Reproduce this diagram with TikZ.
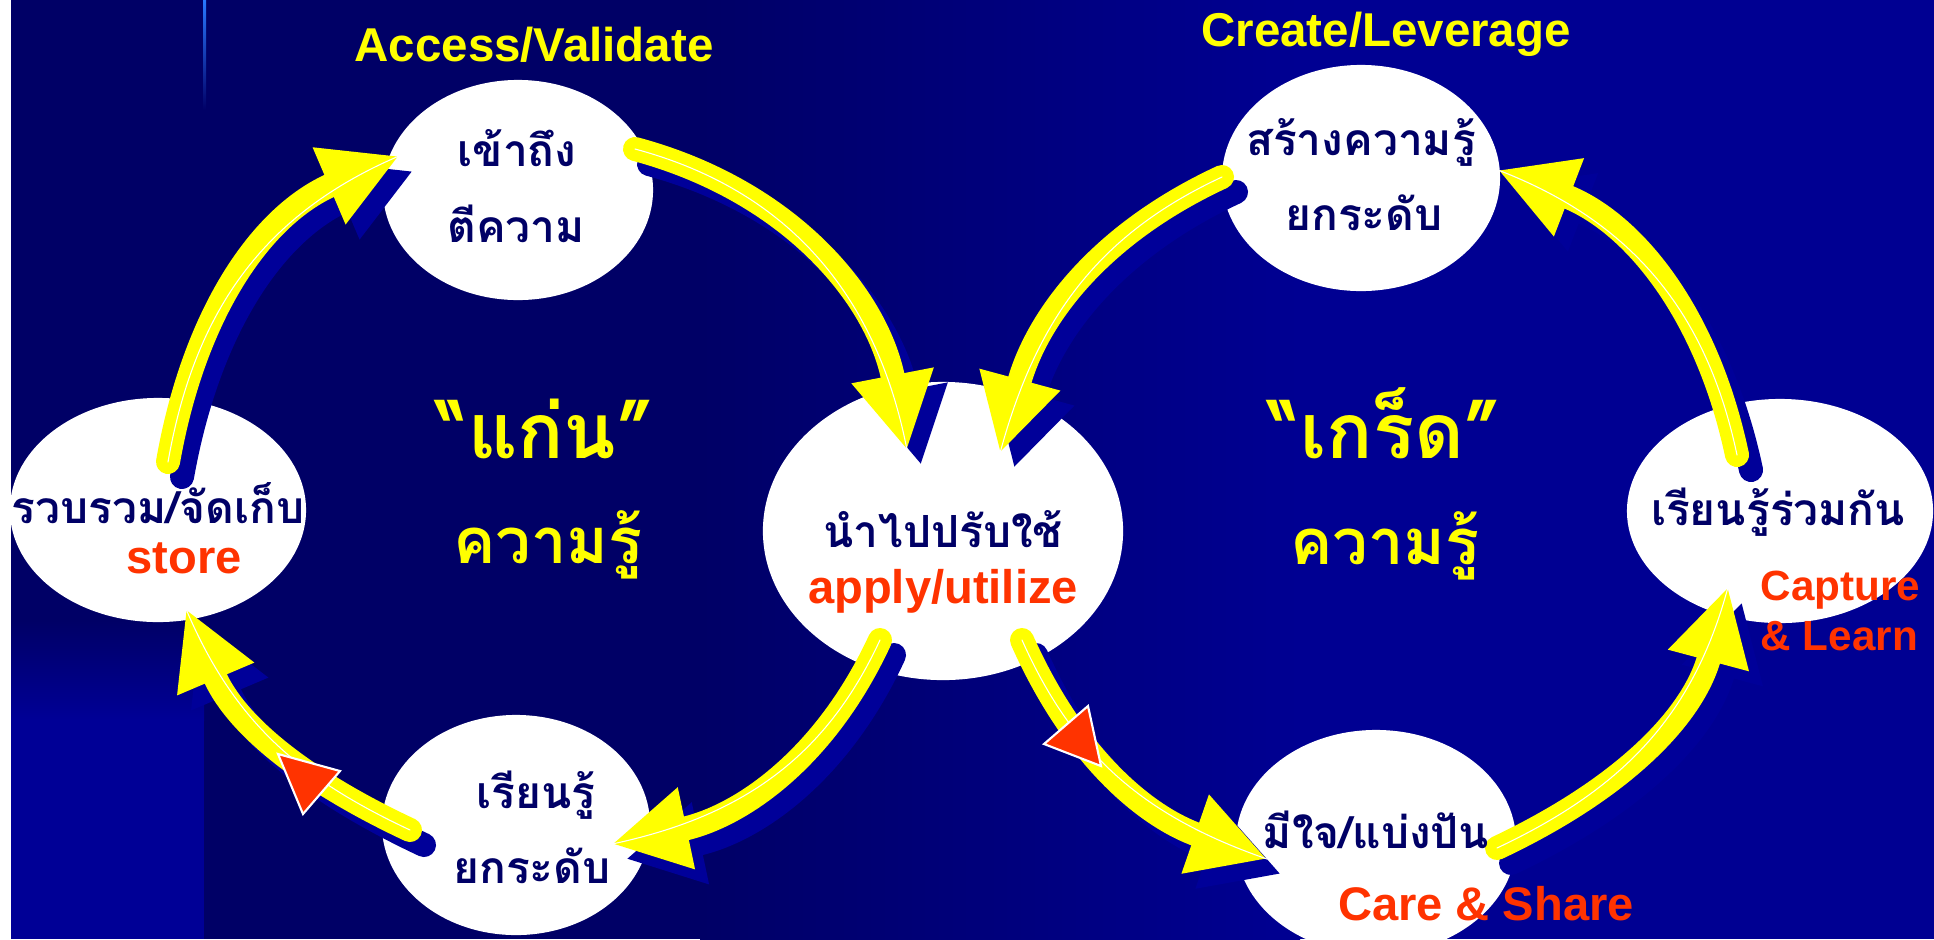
\documentclass[tikz,border=0pt]{standalone}
\usepackage{fontspec}
\setmainfont{Liberation Sans}
\newfontfamily\thai[Script=Thai]{Loma}
\usetikzlibrary{shapes.geometric,arrows.meta,calc}
\definecolor{fondA}{RGB}{0,0,102}
\definecolor{fondB}{RGB}{0,0,146}
\definecolor{bande}{RGB}{0,0,150}
\definecolor{bleuombre}{RGB}{0,0,153}
\definecolor{jaune}{RGB}{255,255,0}
\definecolor{rouge}{RGB}{255,51,0}
\definecolor{marine}{RGB}{0,0,102}
\definecolor{filbleu}{RGB}{40,120,255}

\begin{document}
\begin{tikzpicture}[x=0.01cm,y=-0.01cm]
    % Styles
    \tikzstyle{bulle}=[ellipse,fill=white,inner sep=0pt]
    \tikzstyle{fleche}=[draw=jaune,line width=0.24cm,line cap=round,-{Triangle[width=0.78cm,length=0.76cm]},
        preaction={draw=bleuombre,line width=0.24cm,line cap=round,-{Triangle[width=0.78cm,length=0.76cm]},
            transform canvas={shift={(14,15)}}},
        postaction={draw=white,line width=0.3pt,-}]
    \tikzstyle{repere}=[fill=rouge,draw=white,line width=0.6pt]
    \tikzstyle{thaiN}=[anchor=base,inner sep=0pt,text=marine,font=\thai\bfseries\fontsize{12.6pt}{14pt}\selectfont]
    \tikzstyle{anglais}=[anchor=base,inner sep=0pt,text=rouge,font=\bfseries\fontsize{13.4pt}{15pt}\selectfont]
    \tikzstyle{petit}=[anchor=base west,inner sep=0pt,text=rouge,font=\bfseries\fontsize{12pt}{14pt}\selectfont]
    \tikzstyle{titre}=[anchor=base,inner sep=0pt,text=jaune,font=\bfseries\fontsize{13.5pt}{15pt}\selectfont]
    \tikzstyle{grand}=[anchor=base,inner sep=0pt,text=jaune,font=\thai\bfseries\fontsize{21.8pt}{24pt}\selectfont]
    \tikzstyle{moyen}=[anchor=base,inner sep=0pt,text=jaune,font=\thai\bfseries\fontsize{18pt}{20pt}\selectfont]
    % Fond
    \useasboundingbox (0,0) rectangle (1934,939);
    \fill[white] (0,0) rectangle (1934,939);
    \fill[fondA] (11,0) rectangle (700,939);
    \shade[left color=fondA,right color=fondB] (700,0) rectangle (1300,939);
    \fill[fondB] (1300,0) rectangle (1934,939);
    \shade[top color=fondA,bottom color=bande] (11,620) rectangle (204,720);
    \fill[bande] (11,720) rectangle (204,939);
    \shade[top color=filbleu,bottom color=fondA] (203,0) rectangle (206,110);
    % Bulles
    \node[bulle,minimum width=2.70cm,minimum height=2.20cm] (acc) at (518,190) {};
    \node[bulle,minimum width=2.78cm,minimum height=2.26cm] (cre) at (1361,178) {};
    \node[bulle,minimum width=2.96cm,minimum height=2.24cm] (sto) at (158,510) {};
    \node[bulle,minimum width=3.60cm,minimum height=2.98cm] (app) at (943,531) {};
    \node[bulle,minimum width=2.68cm,minimum height=2.20cm] (ame) at (516,825) {};
    \node[bulle,minimum width=2.80cm,minimum height=2.24cm] (par) at (1376,842) {};
    \node[bulle,minimum width=3.06cm,minimum height=2.24cm] (cap) at (1780,511) {};
    % Bouts des fleches
    \coordinate (a1s) at ($(sto)+(10,-48)$);
    \coordinate (a1e) at ($(acc)+(-119,-34)$);
    \coordinate (a2s) at ($(acc)+(117,-41)$);
    \coordinate (a2e) at ($(app)+(-36,-81)$);
    \coordinate (a3s) at ($(app)+(-63,109)$);
    \coordinate (a3e) at ($(ame)+(96,19)$);
    \coordinate (a4s) at ($(ame)+(-106,5)$);
    \coordinate (a4e) at ($(sto)+(28,99)$);
    \coordinate (a5s) at ($(cre)+(-139,-1)$);
    \coordinate (a5e) at ($(app)+(57,-78)$);
    \coordinate (a6s) at ($(app)+(79,109)$);
    \coordinate (a6e) at ($(par)+(-109,17)$);
    \coordinate (a7s) at ($(par)+(121,6)$);
    \coordinate (a7e) at ($(cap)+(-52,76)$);
    \coordinate (a8s) at ($(cap)+(-43,-56)$);
    \coordinate (a8e) at ($(cre)+(137,-8)$);
    % Fleches
    \draw[fleche] (a1s) .. controls +(26,-148) and +(-138,59) .. (a1e);
    \draw[fleche] (a2s) .. controls +(153,41) and +(-30,-155) .. (a2e);
    \draw[fleche] (a3s) .. controls +(-55,119) and +(128,-27) .. (a3e);
    \draw[fleche] (a4s) .. controls +(-111,-52) and +(48,113) .. (a4e);
    \draw[fleche] (a5s) .. controls +(-125,58) and +(36,-133) .. (a5e);
    \draw[fleche] (a6s) .. controls +(52,117) and +(-121,-42) .. (a6e);
    \draw[fleche] (a7s) .. controls +(123,-58) and +(-35,131) .. (a7e);
    \draw[fleche] (a8s) .. controls +(-30,-142) and +(135,52) .. (a8e);
    \draw[repere] (278,754) -- (340,771) -- (303,814) -- cycle;
    \draw[repere] (1088,706) -- (1044,744) -- (1101,766) -- cycle;
    % Textes
    \node[titre] (tacc) at (534,61) {Access/Validate};
    \node[titre] (tcre) at (1386,46) {Create/Leverage};
    \node[thaiN] (acc1) at (517,166) {เข้าถึง};
    \node[thaiN] (acc2) at (516,242) {ตีความ};
    \node[thaiN] (cre1) at (1361,155) {สร้างความรู้};
    \node[thaiN] (cre2) at (1364,230) {ยกระดับ};
    \node[thaiN] (sto1) at (158,523) {รวบรวม/จัดเก็บ};
    \node[anglais] (sto2) at (184,573) {store};
    \node[thaiN] (app1) at (943,547) {นำไปปรับใช้};
    \node[anglais] (app2) at (943,603) {apply/utilize};
    \node[thaiN] (ame1) at (536,808) {เรียนรู้};
    \node[thaiN] (ame2) at (532,883) {ยกระดับ};
    \node[thaiN] (par1) at (1376,848) {มีใจ/แบ่งปัน};
    \node[anglais] (par2) at (1486,920) {Care \& Share};
    \node[thaiN] (cap1) at (1778,525) {เรียนรู้ร่วมกัน};
    \node[petit] (cap2) at (1760,600) {Capture};
    \node[petit] (cap3) at (1760,650) {\& Learn};
    \node[grand] (kaen1) at (545,458) {“แก่น”};
    \node[moyen] (kaen2) at (548,563) {ความรู้};
    \node[grand] (kret1) at (1385,458) {“เกร็ด”};
    \node[moyen] (kret2) at (1385,564) {ความรู้};
\end{tikzpicture}
\end{document}
